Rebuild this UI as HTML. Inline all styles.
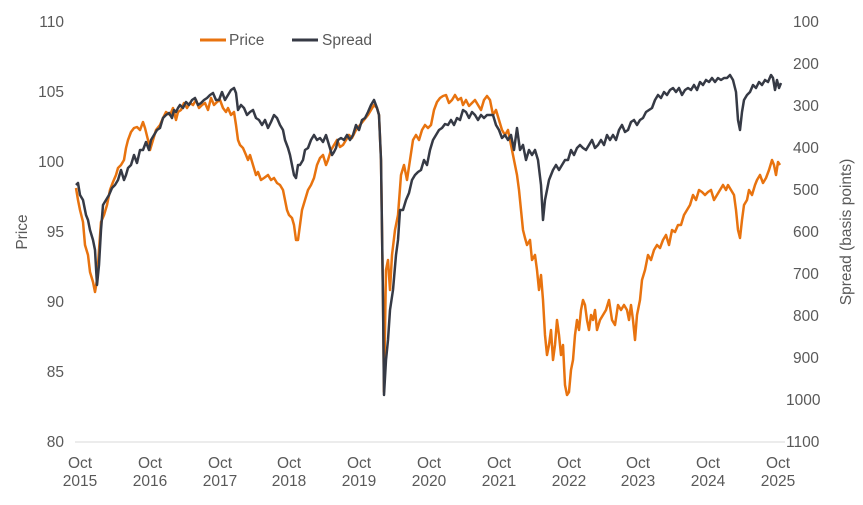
<!DOCTYPE html>
<html><head><meta charset="utf-8"><style>
body{margin:0;background:#fff;}
svg text{font-family:"Liberation Sans",Arial,sans-serif;font-size:15.5px;fill:#595959;}
</style></head><body>
<svg width="863" height="500" viewBox="0 0 863 500" xmlns="http://www.w3.org/2000/svg">
<line x1="75" y1="442" x2="785" y2="442" stroke="#d9d9d9" stroke-width="1"/>
<g text-anchor="end">
<text x="64" y="27">110</text><text x="64" y="97">105</text><text x="64" y="167">100</text>
<text x="64" y="237">95</text><text x="64" y="307">90</text><text x="64" y="377">85</text><text x="64" y="447">80</text>
</g>
<g text-anchor="start">
<text x="793" y="27">100</text><text x="793" y="69">200</text><text x="793" y="111">300</text>
<text x="793" y="153">400</text><text x="793" y="195">500</text><text x="793" y="237">600</text>
<text x="793" y="279">700</text><text x="793" y="321">800</text><text x="793" y="363">900</text>
<text x="786" y="405">1000</text><text x="786" y="447">1100</text>
</g>
<g text-anchor="middle">
<text x="80" y="468">Oct</text><text x="80" y="486">2015</text>
<text x="150" y="468">Oct</text><text x="150" y="486">2016</text>
<text x="220" y="468">Oct</text><text x="220" y="486">2017</text>
<text x="289" y="468">Oct</text><text x="289" y="486">2018</text>
<text x="359" y="468">Oct</text><text x="359" y="486">2019</text>
<text x="429" y="468">Oct</text><text x="429" y="486">2020</text>
<text x="499" y="468">Oct</text><text x="499" y="486">2021</text>
<text x="569" y="468">Oct</text><text x="569" y="486">2022</text>
<text x="638" y="468">Oct</text><text x="638" y="486">2023</text>
<text x="708" y="468">Oct</text><text x="708" y="486">2024</text>
<text x="778" y="468">Oct</text><text x="778" y="486">2025</text>
</g>
<text transform="translate(27,232) rotate(-90)" text-anchor="middle">Price</text>
<text transform="translate(851,232) rotate(-90)" text-anchor="middle">Spread (basis points)</text>
<line x1="200" y1="40" x2="226" y2="40" stroke="#E8730F" stroke-width="3"/>
<text x="229" y="45">Price</text>
<line x1="292" y1="40" x2="318" y2="40" stroke="#363a45" stroke-width="3"/>
<text x="322" y="45">Spread</text>
<polyline fill="none" stroke="#E8730F" stroke-width="2.5" stroke-linejoin="round" points="76,188 78,200 80,210 83,222 85,245 88,255 90,272 93,282 95,292 97,280 99,250 101,222 104,215 107,205 110,190 113,182 116,175 118,168 121,165 124,160 126,148 128,140 131,132 134,128 137,127 140,130 143,122 145,128 148,140 150,150 153,140 156,130 160,125 163,118 166,112 170,115 173,108 176,120 178,112 181,110 184,103 187,108 190,103 193,105 196,100 199,108 202,105 205,103 208,110 211,98 214,105 217,102 220,100 223,108 226,112 228,108 231,115 234,112 236,125 238,140 240,145 243,148 246,155 248,160 250,155 253,165 256,175 258,172 261,180 264,178 268,175 271,180 274,178 277,183 280,185 283,190 285,200 287,210 289,215 292,218 294,225 296,240 298,240 300,225 302,210 305,200 308,190 311,185 314,178 317,165 320,158 323,155 326,165 328,160 331,150 334,145 337,140 340,147 343,145 346,140 349,135 352,138 356,130 360,125 364,120 368,115 371,110 374,105 377,108 379,115 381,160 383,300 384,392 385,330 386,270 388,260 390,290 392,255 395,230 398,215 401,175 404,165 407,180 410,160 413,140 416,135 419,140 422,130 425,125 428,128 431,125 434,110 437,102 440,98 443,96 446,95 449,103 452,100 455,95 458,100 461,98 463,105 466,100 469,106 472,103 475,100 478,105 481,110 484,100 487,96 490,100 493,115 496,110 499,120 502,130 505,135 508,130 511,145 514,160 517,175 519,190 521,210 523,230 525,238 527,245 530,240 532,260 535,255 537,270 539,290 541,275 543,300 545,335 547,355 549,345 551,330 553,360 555,345 557,320 559,335 561,355 563,345 565,385 567,395 569,392 571,370 573,360 575,335 577,320 579,330 581,310 583,300 585,305 587,320 589,330 591,315 593,320 595,310 597,330 600,320 603,315 606,310 609,300 612,320 615,325 618,305 621,310 624,305 627,310 629,320 631,305 633,320 635,340 637,315 640,300 642,280 645,270 648,255 651,260 654,250 657,245 660,248 663,240 666,235 669,245 672,230 675,232 678,225 681,225 684,215 687,210 690,205 693,195 696,200 699,190 702,192 705,195 708,192 711,190 714,200 717,195 720,190 723,185 726,190 728,185 731,190 734,195 736,210 738,230 740,238 742,220 744,205 747,200 749,190 752,195 755,185 757,180 760,175 763,183 766,178 769,170 772,160 774,165 776,175 778,162 780,165"/>
<polyline fill="none" stroke="#363a45" stroke-width="2.5" stroke-linejoin="round" points="76,185 78,183 80,195 83,200 86,215 88,220 90,230 93,240 95,250 97,285 99,265 101,230 103,205 106,200 109,195 112,188 115,185 118,180 121,170 124,180 126,175 128,168 131,165 134,155 137,163 140,150 143,150 146,142 149,150 151,140 154,135 157,130 160,128 163,118 166,115 169,113 172,118 174,110 176,112 178,108 180,105 183,108 186,102 189,105 192,100 195,98 198,105 201,103 204,100 207,98 210,95 213,93 216,100 219,100 222,92 225,100 228,95 231,90 234,88 236,93 238,110 241,105 244,108 247,115 250,112 253,110 256,118 259,120 262,125 265,120 268,128 271,122 274,115 277,118 280,125 283,130 285,140 288,148 290,155 292,165 294,175 296,178 298,165 300,165 303,160 305,150 308,148 311,140 314,135 317,140 320,138 323,142 326,135 329,145 332,155 334,152 336,148 338,140 341,138 344,140 347,135 350,140 353,135 356,125 359,130 362,120 365,118 368,112 371,105 374,100 377,108 379,115 381,160 383,300 384,395 386,360 388,340 390,310 393,290 396,255 398,240 400,210 403,210 406,200 409,193 412,180 415,175 418,172 421,170 424,160 427,165 430,150 433,140 436,135 439,130 442,128 445,124 448,125 451,120 454,125 457,118 460,120 463,110 466,112 469,118 472,112 475,115 478,120 481,115 484,118 487,115 490,115 493,115 496,125 499,130 502,138 505,135 508,140 511,135 514,150 517,128 520,150 523,145 526,160 529,150 532,155 535,150 538,160 541,185 543,220 545,200 547,190 549,180 551,175 553,170 556,165 559,170 562,165 565,160 568,160 571,150 574,155 577,148 580,145 583,148 586,150 589,145 592,140 595,148 598,145 601,140 604,145 607,135 610,140 613,135 616,140 619,130 622,125 625,132 628,130 631,122 634,120 637,125 640,120 643,118 646,112 649,110 652,108 655,100 658,95 661,98 664,92 667,95 670,90 673,88 676,92 679,88 682,95 685,90 688,88 691,90 694,85 697,90 700,82 703,85 706,80 709,82 712,78 715,82 718,78 721,80 724,78 727,78 730,75 733,80 736,92 738,120 740,130 742,112 744,100 747,95 750,92 753,85 756,88 759,82 762,85 765,80 768,82 771,75 773,78 775,90 777,80 779,88 781,83"/>
</svg>
</body></html>
